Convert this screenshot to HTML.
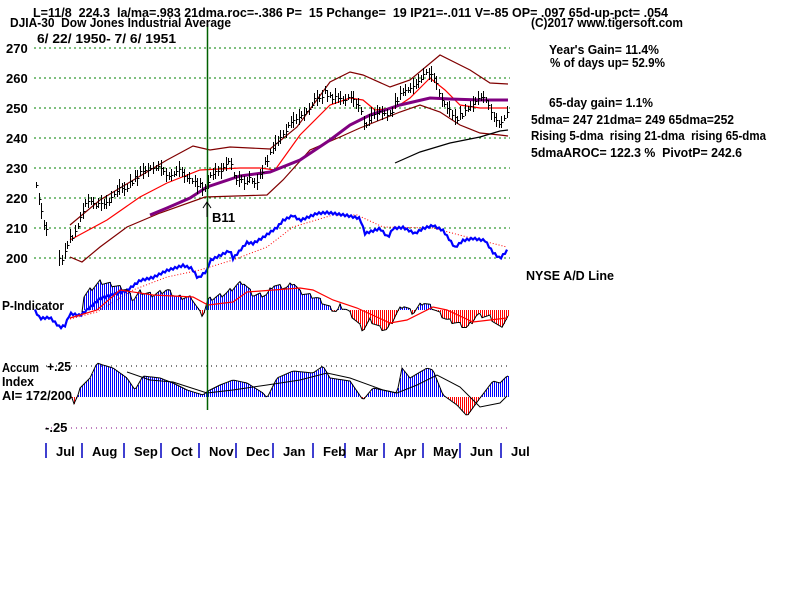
<!DOCTYPE html>
<html><head><meta charset="utf-8"><style>
body{margin:0;background:#fff;}
svg text{font-family:"Liberation Sans",Arial,sans-serif;font-weight:bold;font-size:13px;fill:#000;white-space:pre;}
</style></head><body>
<svg id="s" width="800" height="600" xmlns="http://www.w3.org/2000/svg">
<rect width="800" height="600" fill="#fff"/>
<g stroke="#008000" stroke-dasharray="2,3" stroke-width="1" shape-rendering="crispEdges">
<line x1="34" y1="48" x2="510" y2="48"/><line x1="34" y1="78" x2="510" y2="78"/>
<line x1="34" y1="108" x2="510" y2="108"/><line x1="34" y1="138" x2="510" y2="138"/>
<line x1="34" y1="168" x2="510" y2="168"/><line x1="34" y1="198" x2="510" y2="198"/>
<line x1="34" y1="228" x2="510" y2="228"/><line x1="34" y1="258" x2="510" y2="258"/>
</g>
<line x1="46" y1="366" x2="510" y2="366" stroke="#000" stroke-dasharray="1,4"/>
<line x1="46" y1="428" x2="510" y2="428" stroke="#800080" stroke-dasharray="1,4"/>
<g id="dyn"></g>
<line x1="207.5" y1="24" x2="207.5" y2="410" stroke="#006000" stroke-width="1.5"/>
<text x="33" y="17" textLength="635" lengthAdjust="spacingAndGlyphs">L=11/8  224.3  la/ma=.983 21dma.roc=-.386 P=  15 Pchange=  19 IP21=-.011 V=-85 OP= .097 65d-up-pct= .054</text>
<text x="10" y="27" textLength="221" lengthAdjust="spacingAndGlyphs">DJIA-30  Dow Jones Industrial Average</text>
<text x="37" y="43" textLength="139" lengthAdjust="spacingAndGlyphs">6/ 22/ 1950- 7/ 6/ 1951</text>
<g font-size="14">
<text x="6" y="53">270</text><text x="6" y="83">260</text><text x="6" y="113">250</text><text x="6" y="143">240</text>
<text x="6" y="173">230</text><text x="6" y="203">220</text><text x="6" y="233">210</text><text x="6" y="263">200</text>
</g>
<text x="212" y="222" font-size="15">B11</text>
<path d="M207 202 L207 217 M203 208 L207 202 L211 208" stroke="#000" fill="none"/>
<text x="531" y="27" textLength="152" lengthAdjust="spacingAndGlyphs">(C)2017 www.tigersoft.com</text>
<text x="549" y="54" textLength="110" lengthAdjust="spacingAndGlyphs">Year's Gain= 11.4%</text>
<text x="550" y="67" textLength="115" lengthAdjust="spacingAndGlyphs">% of days up= 52.9%</text>
<text x="549" y="107" textLength="104" lengthAdjust="spacingAndGlyphs">65-day gain= 1.1%</text>
<text x="531" y="124" textLength="203" lengthAdjust="spacingAndGlyphs">5dma= 247 21dma= 249 65dma=252</text>
<text x="531" y="140" textLength="235" lengthAdjust="spacingAndGlyphs">Rising 5-dma  rising 21-dma  rising 65-dma</text>
<text x="531" y="157" textLength="211" lengthAdjust="spacingAndGlyphs">5dmaAROC= 122.3 %  PivotP= 242.6</text>
<text x="526" y="280" textLength="88" lengthAdjust="spacingAndGlyphs">NYSE A/D Line</text>
<text x="2" y="310" textLength="62" lengthAdjust="spacingAndGlyphs">P-Indicator</text>
<text x="2" y="372" textLength="37" lengthAdjust="spacingAndGlyphs">Accum</text><text x="47" y="371" textLength="24" lengthAdjust="spacingAndGlyphs">+.25</text>
<text x="2" y="386" textLength="32" lengthAdjust="spacingAndGlyphs">Index</text>
<text x="2" y="400" textLength="70" lengthAdjust="spacingAndGlyphs">AI= 172/200</text>
<text x="45" y="432">-.25</text>
<g stroke="#0000c0" stroke-width="1.5">
<line x1="46" y1="443" x2="46" y2="458"/><line x1="82" y1="443" x2="82" y2="458"/><line x1="124" y1="443" x2="124" y2="458"/>
<line x1="161" y1="443" x2="161" y2="458"/><line x1="199" y1="443" x2="199" y2="458"/><line x1="236" y1="443" x2="236" y2="458"/>
<line x1="273" y1="443" x2="273" y2="458"/><line x1="313" y1="443" x2="313" y2="458"/><line x1="345" y1="443" x2="345" y2="458"/>
<line x1="384" y1="443" x2="384" y2="458"/><line x1="423" y1="443" x2="423" y2="458"/><line x1="460" y1="443" x2="460" y2="458"/>
<line x1="501" y1="443" x2="501" y2="458"/>
</g>
<g>
<text x="56" y="456">Jul</text><text x="92" y="456">Aug</text><text x="134" y="456">Sep</text><text x="171" y="456">Oct</text>
<text x="209" y="456">Nov</text><text x="246" y="456">Dec</text><text x="283" y="456">Jan</text><text x="323" y="456">Feb</text>
<text x="355" y="456">Mar</text><text x="394" y="456">Apr</text><text x="433" y="456">May</text><text x="470" y="456">Jun</text>
<text x="511" y="456">Jul</text>
</g>
</svg>
<script>
var g=document.getElementById('dyn'),NS="http://www.w3.org/2000/svg";
function el(t,a){var e=document.createElementNS(NS,t);for(var k in a)e.setAttribute(k,a[k]);g.appendChild(e);return e;}
function interp(p,x){for(var i=0;i<p.length-1;i++){if(x>=p[i][0]&&x<=p[i+1][0]){var t=(x-p[i][0])/(p[i+1][0]-p[i][0]);return p[i][1]+t*(p[i+1][1]-p[i][1]);}}return x<p[0][0]?p[0][1]:p[p.length-1][1];}
function line(p,c,w,d){var s="M"+p.map(function(q){return q[0]+" "+q[1]}).join(" L");var a={d:s,stroke:c,"stroke-width":w,fill:"none"};if(d)a["stroke-dasharray"]=d;el("path",a);}
function hist(p,base,x0,x1){for(var x=x0;x<=x1;x+=2){var v=Math.round(interp(p,x));el("line",{x1:x+0.5,x2:x+0.5,y1:base,y2:v,stroke:v<base?"#0000ff":"#ff0000","stroke-width":1,"shape-rendering":"crispEdges"});}
line(p,"#000",1);}
line([[70,225],[100,200],[120,188],[167,160],[193,146],[210,150],[230,147],[270,149],[297,127],[330,82],[350,72],[363,75],[390,87],[410,80],[440,55],[470,70],[490,83],[508,84]],"#800000",1.2);
line([[70,257],[82,262],[100,247],[127,227],[160,213],[205,197],[267,195],[283,180],[310,150],[340,137],[360,128],[380,120],[400,112],[420,105],[440,112],[460,125],[480,133],[500,135],[508,136]],"#800000",1.2);
line([[70,240],[107,220],[140,197],[167,183],[200,170],[240,168],[260,168],[275,170],[300,135],[330,105],[350,98],[363,100],[375,110],[395,108],[410,98],[430,78],[445,90],[460,105],[480,108],[508,108]],"#ff0000",1.2);
line([[150,215],[167,208],[190,198],[207,187],[240,176],[270,172],[300,160],[330,140],[350,125],[370,115],[400,105],[430,98],[450,99],[480,100],[508,100]],"#800080",3);
line([[395,163],[420,152],[450,143],[480,137],[500,131],[508,130]],"#000",1.2);
var pr=[[36,185],[40,205],[44,225],[48,232],[52,230],[56,240],[60,260],[64,255],[68,240],[72,236],[76,232],[80,220],[85,205],[90,200],[95,206],[100,203],[105,203],[110,200],[115,191],[120,185],[125,188],[130,183],[135,178],[140,173],[145,172],[150,170],[155,168],[160,167],[165,175],[170,175],[175,173],[180,167],[185,176],[190,177],[195,183],[200,185],[205,190],[210,177],[215,173],[220,172],[225,165],[230,160],[235,180],[240,178],[245,183],[248,175],[255,183],[260,175],[265,163],[270,154],[275,145],[280,140],[285,132],[290,122],[295,120],[300,115],[305,113],[310,107],[315,95],[320,97],[325,92],[330,97],[335,98],[340,100],[345,102],[350,96],[355,103],[360,107],[365,128],[370,116],[375,112],[380,110],[385,112],[390,115],[395,103],[400,95],[405,92],[410,90],[415,85],[420,80],[425,72],[430,73],[435,78],[440,95],[445,105],[450,108],[455,120],[460,115],[465,112],[470,108],[475,103],[480,97],[485,98],[490,110],[495,118],[500,125],[505,115],[508,106]];
for(var x=36;x<=508;x+=2.6){if(x>48&&x<57)continue;var xi=Math.round(x)+0.5;var y=Math.round(interp(pr,x)+((Math.round(x)*7)%5-2));var h=3+((Math.round(x)*13)%6);
el("line",{x1:xi,x2:xi,y1:y-h,y2:y+h,stroke:"#000","stroke-width":1,"shape-rendering":"crispEdges"});el("line",{x1:xi,x2:xi+2,y1:y+0.5,y2:y+0.5,stroke:"#000","stroke-width":1,"shape-rendering":"crispEdges"});}
line([[70,319],[97,312],[133,290],[167,277],[200,270],[233,260],[267,247],[293,227],[333,215],[357,215],[383,227],[433,228],[467,237],[507,247]],"#ff0000",1,"1,2");
var ad=[[35,310],[40,318],[50,317],[60,327],[65,325],[70,313],[80,315],[90,307],[100,298],[110,295],[127,290],[140,280],[153,277],[167,270],[183,265],[192,268],[198,278],[207,270],[210,260],[230,250],[233,258],[247,242],[253,243],[263,237],[277,227],[283,220],[293,215],[300,220],[317,213],[327,212],[347,215],[360,218],[365,233],[380,228],[388,237],[393,228],[403,227],[415,233],[423,228],[433,225],[443,230],[455,247],[463,240],[473,238],[485,240],[493,252],[500,258],[508,249]];
var adj=[];for(var x=35;x<=508;x+=2){adj.push([x,interp(ad,x)+((x*11)%4-1.5)]);}
line(adj,"#0000ff",2.2);
var P=[[82,310],[83,297],[90,290],[100,282],[113,285],[127,290],[133,300],[140,292],[153,295],[167,290],[177,297],[192,298],[200,313],[203,315],[208,300],[227,293],[237,285],[243,282],[253,295],[267,295],[273,285],[287,288],[293,282],[300,292],[317,298],[330,308],[337,312],[340,306],[347,310],[353,317],[363,330],[370,320],[380,328],[387,330],[397,313],[403,305],[413,313],[423,302],[433,308],[447,320],[457,323],[467,328],[477,315],[490,317],[500,328],[508,317]];
var Pj=[];for(var x=82;x<=508;x+=2){Pj.push([x,interp(P,x)+((x*7)%5-2)]);}
hist(Pj,310,84,508);
line([[70,318],[97,310],[120,290],[153,295],[193,297],[208,305],[233,302],[247,292],[300,288],[313,290],[333,300],[357,308],[390,323],[407,320],[433,307],[447,310],[473,322],[507,318]],"#ff0000",1.2);
var A=[[70,397],[72,400],[73,408],[78,397],[80,390],[90,380],[97,365],[103,367],[113,370],[127,380],[135,392],[143,378],[160,380],[173,385],[187,392],[203,397],[208,393],[220,387],[233,382],[247,385],[263,395],[267,400],[277,380],[293,373],[313,375],[323,368],[330,380],[350,383],[363,402],[373,390],[397,395],[402,370],[410,380],[427,370],[433,372],[443,397],[457,407],[467,418],[480,400],[493,383],[500,385],[507,378]];
var Aj=[];for(var x=70;x<=508;x+=2){Aj.push([x,interp(A,x)+((x*5)%5-2)]);}
hist(Aj,397,70,508);
line([[127,372],[150,380],[173,382],[207,393],[233,390],[267,385],[300,380],[327,373],[350,378],[383,390],[397,393],[417,385],[437,375],[460,387],[480,407],[500,403],[507,396]],"#000",1);
</script>
</body></html>
